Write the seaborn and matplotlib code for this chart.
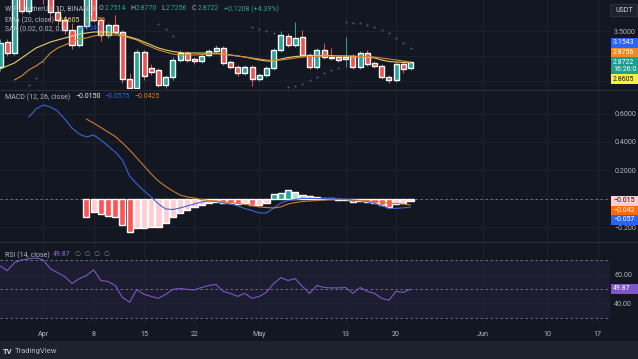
import numpy as np
import pandas as pd
import matplotlib
matplotlib.use("Agg")
import matplotlib.pyplot as plt
import matplotlib.patches as mpatches
import matplotlib.lines as mlines
import seaborn as sns

# daily candles WIF/USDT, 26 Mar - 22 May 2024
dates = pd.date_range("2024-03-26", "2024-05-22", freq="D")

opens = [2.78, 3.28, 3.06, 4.25, 3.90, 4.30, 4.60, 4.20, 3.88, 3.72,
         3.52, 3.22, 3.60, 4.15, 3.72, 3.42, 3.62, 3.48, 2.55, 2.36,
         3.08, 2.76, 2.72, 2.42, 2.58, 2.92, 3.06, 2.94, 2.90, 3.02,
         3.10, 3.16, 2.88, 2.78, 2.66, 2.78, 2.54, 2.62, 2.76, 3.12,
         3.40, 3.22, 3.38, 3.02, 2.78, 3.12, 2.98, 2.98, 2.94, 3.00,
         2.78, 3.06, 2.86, 2.80, 2.58, 2.52, 2.84, 2.7514]
closes = [3.26, 3.06, 4.25, 3.90, 4.30, 4.60, 4.20, 3.88, 3.72, 3.52,
          3.22, 3.60, 4.15, 3.72, 3.42, 3.62, 3.48, 2.55, 2.36, 3.08,
          2.60, 2.68, 2.42, 2.58, 2.92, 3.06, 2.92, 2.90, 3.00, 3.10,
          3.16, 2.86, 2.78, 2.66, 2.78, 2.54, 2.62, 2.76, 3.12, 3.42,
          3.22, 3.36, 3.02, 2.78, 3.12, 2.98, 2.96, 2.92, 2.97, 2.78,
          3.06, 2.84, 2.80, 2.58, 2.52, 2.84, 2.75, 2.8722]
highs = [3.34, 3.34, 4.35, 4.45, 4.40, 4.85, 4.65, 4.25, 4.00, 3.80,
         3.66, 3.62, 4.30, 4.20, 3.78, 3.66, 3.82, 3.52, 2.66, 3.14,
         3.12, 2.84, 2.76, 2.62, 2.98, 3.12, 3.10, 2.98, 3.04, 3.14,
         3.22, 3.20, 2.92, 2.82, 2.82, 2.82, 2.66, 2.80, 3.16, 3.50,
         3.46, 3.68, 3.52, 3.06, 3.16, 3.26, 3.16, 3.02, 3.38, 3.04,
         3.10, 3.12, 2.90, 2.84, 2.62, 2.88, 2.90, 2.877]
lows = [2.70, 3.00, 3.02, 3.85, 3.85, 4.20, 4.05, 3.70, 3.62, 3.45,
        3.15, 3.18, 3.55, 3.68, 3.30, 3.36, 3.44, 2.45, 2.28, 2.32,
        2.52, 2.62, 2.38, 2.36, 2.52, 2.88, 2.88, 2.84, 2.86, 2.98,
        3.06, 2.82, 2.74, 2.60, 2.62, 2.40, 2.50, 2.58, 2.72, 3.08,
        3.18, 3.18, 2.98, 2.74, 2.74, 2.94, 2.92, 2.88, 2.78, 2.74,
        2.74, 2.80, 2.76, 2.54, 2.46, 2.48, 2.66, 2.7256]

ema20 = [2.74, 2.80, 2.86, 2.96, 3.06, 3.16, 3.22, 3.28, 3.32, 3.36,
         3.40, 3.44, 3.46, 3.48, 3.48, 3.48, 3.46, 3.42, 3.38, 3.34,
         3.28, 3.22, 3.16, 3.12, 3.09, 3.07, 3.06, 3.06, 3.06, 3.06,
         3.06, 3.04, 3.02, 3.00, 2.98, 2.95, 2.92, 2.90, 2.90, 2.94,
         2.97, 2.99, 3.00, 3.00, 3.01, 3.01, 3.01, 3.00, 3.00, 2.99,
         2.99, 2.98, 2.96, 2.92, 2.89, 2.88, 2.87, 2.8605]
# smoothing line of the EMA, starts on 28 Mar
ema_smooth = [2.52, 2.60, 2.72, 2.80, 2.90, 3.06, 3.16, 3.22, 3.28, 3.34,
              3.36, 3.40, 3.42, 3.42, 3.42, 3.40, 3.36, 3.32, 3.24, 3.18,
              3.12, 3.08, 3.04, 3.02, 3.02, 3.02, 3.03, 3.04, 3.04, 3.04,
              3.02, 3.00, 2.98, 2.96, 2.94, 2.92, 2.91, 2.92, 2.94, 2.96,
              2.98, 2.99, 2.99, 3.00, 3.00, 3.00, 3.00, 3.00, 2.99, 2.99,
              2.98, 2.96, 2.94, 2.92, 2.90, 2.8756]

sar_idx = [4, 5, 6, 22, 23, 24, 35, 36, 37, 38, 40, 41, 42, 43, 44, 45, 46, 47,
           48, 49, 50, 51, 52, 53, 54, 55, 56, 57]
sar_val = [2.42, 2.56, 2.88, 3.64, 3.54, 3.40, 3.58, 3.54, 3.50, 3.46, 2.38, 2.40,
           2.44, 2.52, 2.58, 2.66, 2.72, 2.76, 3.68, 3.66, 3.66, 3.62, 3.58, 3.52,
           3.46, 3.36, 3.26, 3.1543]

# MACD line starts 30 Mar, signal and histogram start 7 Apr
macd_line = [0.575, 0.632, 0.66, 0.646, 0.618, 0.561, 0.498, 0.456, 0.435, 0.449,
             0.414, 0.372, 0.33, 0.274, 0.161, 0.105, 0.056, 0.014, -0.035, -0.07,
             -0.074, -0.063, -0.049, -0.035, -0.021, -0.014, -0.018, -0.028, -0.035, -0.049,
             -0.067, -0.081, -0.098, -0.098, -0.063, -0.028, -0.011, -0.004, 0.005, 0.004,
             0.003, 0.004, 0.003, 0.0, -0.004, -0.01, -0.012, -0.02, -0.03, -0.048,
             -0.066, -0.066, -0.062, -0.0575]
macd_signal = [0.561, 0.533, 0.502, 0.47, 0.439, 0.393, 0.344, 0.288, 0.232, 0.175,
               0.126, 0.088, 0.056, 0.028, 0.014, 0.007, -0.004, -0.011, -0.014, -0.018,
               -0.025, -0.032, -0.039, -0.046, -0.056, -0.06, -0.063, -0.056, -0.035, -0.025,
               -0.018, -0.014, -0.011, -0.007, -0.004, -0.004, -0.004, -0.007, -0.01, -0.014,
               -0.018, -0.021, -0.028, -0.032, -0.035, -0.0425]
macd_hist = [-0.127, -0.09, -0.105, -0.118, -0.127, -0.18, -0.23, -0.205, -0.204, -0.20,
             -0.195, -0.17, -0.13, -0.10, -0.075, -0.055, -0.04, -0.03, -0.02, -0.025,
             -0.03, -0.035, -0.03, -0.045, -0.04, -0.03, 0.035, 0.045, 0.06, 0.05,
             0.03, 0.02, 0.015, 0.01, 0.006, -0.004, -0.008, -0.02, -0.015, -0.022,
             -0.03, -0.045, -0.058, -0.035, -0.025, -0.015]

rsi = [66.2, 62.8, 68.3, 70.3, 71.0, 71.7, 70.3, 64.1, 61.4, 58.6,
       53.8, 57.2, 59.3, 63.4, 55.9, 55.2, 52.4, 44.1, 40.7, 49.7,
       46.2, 44.8, 43.4, 46.2, 49.7, 50.3, 49.7, 49.3, 51.0, 52.4,
       53.1, 48.3, 46.9, 44.8, 46.9, 43.4, 44.8, 47.6, 53.8, 57.9,
       55.9, 57.2, 51.7, 46.9, 52.4, 51.0, 50.7, 50.7, 51.0, 46.9,
       51.0, 48.3, 46.9, 43.4, 42.1, 48.3, 47.6, 49.87]

tick_dates = pd.to_datetime(["2024-04-01", "2024-04-08", "2024-04-15", "2024-04-22",
                             "2024-05-01", "2024-05-13", "2024-05-20", "2024-06-01",
                             "2024-06-10", "2024-06-17"])
tick_labels = ["Apr", "8", "15", "22", "May", "13", "20", "Jun", "10", "17"]

BG = "#131722"
GRID = "#1f2330"
TXT = "#b2b5be"
UP = "#26a69a"
DOWN = "#ef5350"

sns.set_theme(style="dark", rc={"axes.facecolor": BG, "figure.facecolor": BG})
plt.rcParams["font.family"] = ["Roboto", "DejaVu Sans"]

W, H = 638, 359
fig = plt.figure(figsize=(W / 100, H / 100), dpi=100)


def px(x, y):
    return x / W, 1 - y / H


def add_pane(top, bottom):
    ax = fig.add_axes([0, 1 - bottom / H, 610 / W, (bottom - top) / H])
    ax.set_facecolor(BG)
    for s in ax.spines.values():
        s.set_visible(False)
    ax.set_xlim(dates[0], dates[0] + pd.Timedelta(days=84.7))
    ax.set_xticks(tick_dates)
    ax.yaxis.tick_right()
    ax.tick_params(length=0, labelsize=5.1, labelcolor=TXT, pad=3)
    ax.grid(True, color=GRID, lw=0.6)
    ax.set_xlabel("")
    ax.set_ylabel("")
    return ax


ax_p = add_pane(0, 89)
ax_m = add_pane(90, 241)
ax_r = add_pane(243, 325)

# ---- price pane ----
up = np.array(closes) >= np.array(opens)
cols = np.where(up, UP, DOWN)
body_lo = np.minimum(opens, closes)
body_h = np.maximum(np.abs(np.array(closes) - np.array(opens)), 0.008)
ax_p.vlines(dates, lows, highs, colors=cols, lw=0.7, zorder=2)
ax_p.bar(dates, body_h, bottom=body_lo, width=0.7, color=cols, zorder=3)
sns.lineplot(x=dates, y=ema20, ax=ax_p, color="#e2cf6a", lw=0.8, zorder=4)
sns.lineplot(x=dates[2:], y=ema_smooth, ax=ax_p, color="#d08838", lw=0.8, zorder=4)
sns.scatterplot(x=dates[sar_idx], y=sar_val, ax=ax_p, color="#46578a", s=2.2,
                linewidth=0, zorder=4)
ax_p.set_ylim(2.34, 4.12)
# 2.5 and 3.0 sit under the price tags
ax_p.set_yticks([2.5, 3.0, 3.5])
ax_p.set_yticklabels(["", "", "3.5000"])
ax_p.set_xticklabels([])

# ---- MACD pane ----
hist_dates = dates[12:]
hcols = []
for k, v in enumerate(macd_hist):
    prev = macd_hist[k - 1] if k > 0 else 0
    if v >= 0:
        hcols.append("#26a69a" if v > prev else "#b2dfdb")
    else:
        hcols.append("#ffcdd2" if v > prev else "#ff5252")
ax_m.bar(hist_dates, macd_hist, width=0.85, color=hcols, zorder=2)
ax_m.axhline(0, color="#787b86", lw=0.6, ls=(0, (3, 3)), zorder=1)
sns.lineplot(x=dates[4:], y=macd_line, ax=ax_m, color="#3a64d8", lw=0.8, zorder=3)
sns.lineplot(x=hist_dates, y=macd_signal, ax=ax_m, color="#d07a2c", lw=0.8, zorder=3)
ax_m.set_ylim(-0.295, 0.765)
ax_m.set_yticks([-0.2, 0.0, 0.2, 0.4, 0.6])
ax_m.set_yticklabels(["−0.200", "", "0.2000", "0.4000", "0.6000"])
ax_m.set_xticklabels([])

# ---- RSI pane ----
ax_r.axhspan(30, 70, color="#7e57c2", alpha=0.1, lw=0, zorder=0)
for lvl in (30, 50, 70):
    ax_r.axhline(lvl, color="#787b86", lw=0.6, ls=(0, (3, 3)), zorder=1)
sns.lineplot(x=dates, y=rsi, ax=ax_r, color="#7e57c2", lw=0.8, zorder=3)
ax_r.set_ylim(24.8, 82.1)
ax_r.set_yticks([40, 60])
ax_r.set_yticklabels(["40.00", "60.00"])
ax_r.set_xticklabels(tick_labels)
ax_r.tick_params(axis="x", pad=4)

# pane separators and bottom strip
for yy in (89.5, 242):
    fig.add_artist(mlines.Line2D([0, 1], [1 - yy / H] * 2, color="#2a2e39", lw=0.8))
fig.add_artist(mpatches.Rectangle(px(0, 359), 1, 18 / H, color="#1e222d", lw=0))
fig.text(*px(3, 351), "TV", color="#d1d4dc", fontsize=5.5, fontweight="bold", va="center")
fig.text(*px(15, 351), "TradingView", color=TXT, fontsize=5.5, va="center")


def label(x, y, s, color=TXT, **kw):
    fig.text(*px(x, y), s, color=color, fontsize=5.0, va="center", zorder=10, **kw)


def tag(y0, y1, s, face, color="white"):
    fig.add_artist(mpatches.Rectangle(px(611, y1), 27 / W, (y1 - y0) / H,
                                      color=face, lw=0, zorder=9))
    fig.text(*px(613, (y0 + y1) / 2), s, color=color, fontsize=5.0,
             va="center", ha="left", zorder=10, linespacing=1.1)


# legends
label(5, 9, "WIF / TetherUS, 1D, BINANCE")
label(98.5, 9, "O", TXT)
label(104.5, 9, "2.7514", UP)
label(130, 9, "H", TXT)
label(136, 9, "2.8770", UP)
label(161, 9, "L", TXT)
label(166, 9, "2.7256", UP)
label(192, 9, "C", TXT)
label(198, 9, "2.8722", UP)
label(224, 9, "+0.1208 (+4.39%)", UP)
label(5, 20, "EMA (20, close)")
label(59, 20, "2.8605", "#f2e05a")
label(85, 20, "2.8756", "#e0913e")
label(5, 29, "SAR (0.02, 0.02, 0.2)")
label(80, 29, "3.1543", "#2962ff")
label(5, 97, "MACD (12, 26, close)")
label(75, 97, "−0.0150", "#e8e8ec")
label(104, 97, "−0.0575", "#2962ff")
label(134, 97, "−0.0425", "#e07a2a")
label(5, 255, "RSI (14, close)")
label(53, 255, "49.87", "#8c6bd0")
label(75, 255, "∅  ∅  ∅  ∅", "#787b86")

# right scale tags
fig.add_artist(mpatches.FancyBboxPatch(px(612, 16), 24 / W, 11 / H,
                                       boxstyle="round,pad=0.002", fc="#1e222d",
                                       ec="#363a45", lw=0.5, zorder=9))
fig.text(*px(615, 10.5), "USDT", color="#d1d4dc", fontsize=5, va="center", zorder=10)
tag(38, 48, "3.1543", "#2962ff")
tag(48, 57, "2.8756", "#f08a24")
tag(57, 74.5, "2.8722\n16:26:0", "#1f9e8b")
tag(74.5, 84, "2.8605", "#f5f23a", "#131722")
tag(196, 206, "−0.015", "#ffcdd2", "#131722")
tag(206, 215, "−0.042", "#ff6d00")
tag(215, 224.5, "−0.057", "#2962ff")
tag(284, 294, "49.87", "#7e57c2")

fig.savefig("out.png", dpi=100, facecolor=BG)
